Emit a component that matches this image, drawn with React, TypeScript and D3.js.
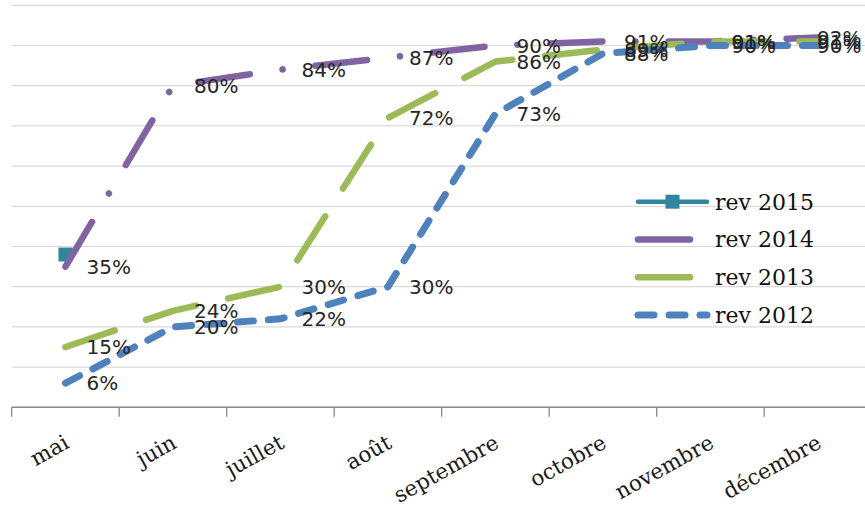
import React from 'react';
import * as d3 from 'd3';

// Categories (months) and series values, in percent
const months = ['mai', 'juin', 'juillet', 'août', 'septembre', 'octobre', 'novembre', 'décembre'];
const rev2015: (number | null)[] = [38, null, null, null, null, null, null, null];
const rev2014 = [35, 80, 84, 87, 90, 91, 91, 92];
const rev2013 = [15, 24, 30, 72, 86, 89, 91, 91];
const rev2012 = [6, 20, 22, 30, 73, 88, 90, 90];
const seriesNames = ['rev 2015', 'rev 2014', 'rev 2013', 'rev 2012'];
const gridTicks = [10, 20, 30, 40, 50, 60, 70, 80, 90, 100];

const W = 865;
const H = 508;

type Style = { color: string; width: number; dash: string | null; marker: boolean; labels: boolean };

const styles: Style[] = [
  { color: '#31859C', width: 4.5, dash: null, marker: true, labels: false },
  { color: '#8064A2', width: 6.5, dash: '52 33 0.1 33', marker: false, labels: true },
  { color: '#9BBB59', width: 6.5, dash: '52 33', marker: false, labels: true },
  { color: '#4F81BD', width: 7, dash: '16 15', marker: false, labels: true },
];

const seriesValues: (number | null)[][] = [rev2015, rev2014, rev2013, rev2012];

// approximate width of a "NN%" label, used to keep labels inside the plot
const LABEL_W = 46;

export default function App() {
  const x = d3
    .scaleBand<string>()
    .domain(months)
    .range([11.7, 11.7 + 107.5 * months.length]);
  const y = d3.scaleLinear().domain([0, 100]).range([407.3, 5.3]);
  const cx = (m: string) => (x(m) as number) + x.bandwidth() / 2;

  const line = d3
    .line<{ m: string; v: number | null }>()
    .defined((d) => d.v !== null)
    .x((d) => cx(d.m))
    .y((d) => y(d.v as number))
    .curve(d3.curveLinear);

  const tickXs = d3.range(months.length + 1).map((i) => 11.7 + i * x.step());

  const legendY = [201.7, 239.5, 277.3, 315];
  const legX0 = 638;
  const legX1 = 707;

  return (
    <svg
      width={W}
      height={H}
      style={{ position: 'absolute', left: 0, top: 0, background: '#fff' }}
    >
      <rect width={W} height={H} fill="#fff" />
      {/* horizontal gridlines */}
      {gridTicks.map((t) => (
        <line key={t} x1={11.7} x2={W} y1={y(t)} y2={y(t)} stroke="#D9D9D9" strokeWidth={1.2} />
      ))}
      {/* category axis */}
      <line x1={11.7} x2={W} y1={y(0)} y2={y(0)} stroke="#898989" strokeWidth={1.5} />
      {tickXs.map((tx, i) => (
        <line key={i} x1={tx} x2={tx} y1={y(0)} y2={y(0) + 9.5} stroke="#898989" strokeWidth={1.3} />
      ))}
      {months.map((m) => (
        <text
          key={m}
          transform={`translate(${cx(m) + 5},${447}) rotate(-29)`}
          textAnchor="end"
          fontFamily="'DejaVu Serif', serif"
          fontSize={21.5}
          fill="#1a1a1a"
        >
          {m}
        </text>
      ))}
      {/* series lines */}
      {seriesValues.map((vals, si) => {
        const st = styles[si];
        const data = months.map((m, i) => ({ m, v: vals[i] }));
        return (
          <g key={si}>
            <path
              d={line(data) || ''}
              fill="none"
              stroke={st.color}
              strokeWidth={st.width}
              strokeDasharray={st.dash || undefined}
              strokeLinecap="round"
              strokeLinejoin="round"
            />
            {st.marker &&
              data
                .filter((d) => d.v !== null)
                .map((d) => (
                  <rect
                    key={d.m}
                    x={cx(d.m) - 7}
                    y={y(d.v as number) - 7}
                    width={14}
                    height={14}
                    fill={st.color}
                  />
                ))}
          </g>
        );
      })}
      {/* data labels, to the right of each point, kept inside the plot */}
      {seriesValues.map((vals, si) =>
        styles[si].labels
          ? months.map((m, i) =>
              vals[i] === null ? null : (
                <text
                  key={`${si}-${m}`}
                  x={Math.min(cx(m) + 21, W - 2 - LABEL_W)}
                  y={y(vals[i] as number)}
                  dy="0.36em"
                  fontFamily="'DejaVu Sans', sans-serif"
                  fontSize={20}
                  fill="#262626"
                >
                  {`${vals[i]}%`}
                </text>
              )
            )
          : null
      )}
      {/* legend */}
      {seriesNames.map((name, i) => {
        const st = styles[i];
        const ly = legendY[i];
        return (
          <g key={name}>
            <line
              x1={legX0}
              x2={legX1}
              y1={ly}
              y2={ly}
              stroke={st.color}
              strokeWidth={st.width}
              strokeDasharray={st.dash || undefined}
              strokeLinecap="round"
            />
            {st.marker && (
              <rect x={(legX0 + legX1) / 2 - 7} y={ly - 7} width={14} height={14} fill={st.color} />
            )}
            <text
              x={715}
              y={ly}
              dy="0.36em"
              fontFamily="'DejaVu Serif', serif"
              fontSize={22}
              fill="#111"
            >
              {name}
            </text>
          </g>
        );
      })}
    </svg>
  );
}
